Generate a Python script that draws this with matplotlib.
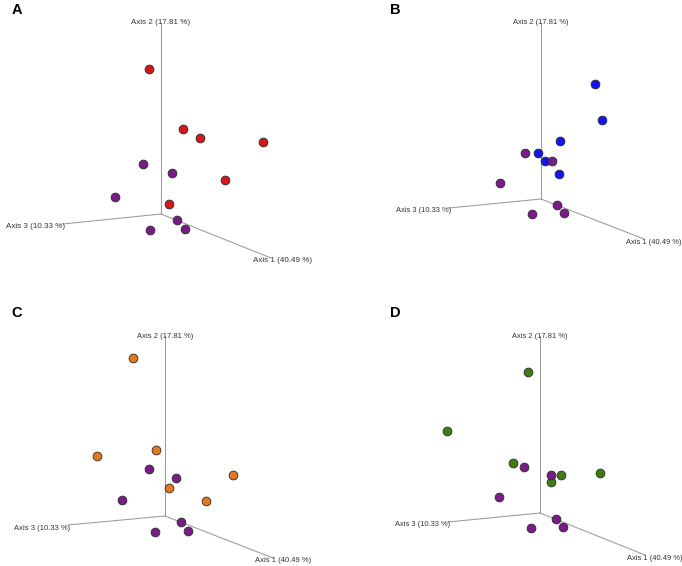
import matplotlib
matplotlib.use('Agg')
from matplotlib import pyplot as plt

plt.rcParams['font.family'] = ['Liberation Sans', 'DejaVu Sans']

# projected PCoA coordinates (axis-origin relative, y up)
purple_A_x = [-18, 11, -46, 16, -11, 24]
purple_A_y = [50, 41, 17, -6, -16, -15]
purple_x = [-16, 11, -41, 16, -9, 23]
purple_y = [46, 38, 16, -6, -15, -14]

red_x = [-12, 22, 39, 102, 64, 8]
red_y = [145, 85, 76, 72, 34, 10]

blue_x = [54, 61, 19, -3, 4, 18]
blue_y = [115, 79, 58, 46, 38, 25]

orange_x = [-32, -68, -9, 68, 4, 41]
orange_y = [158, 60, 66, 41, 28, 15]
purple_C_x = [-16, 11, -43, 16, -10, 23]
purple_C_y = [47, 38, 16, -6, -16, -15]

green_x = [-12, -93, -27, 21, 11, 60]
green_y = [141, 82, 50, 38, 31, 40]

axis_labels = ['Axis 1 (40.49 %)', 'Axis 2 (17.81 %)', 'Axis 3 (10.33 %)']

panels = [
    # letter, quadrant (col,row), origin in quadrant px, axis ends, group data, colour
    dict(name='A', cell=(0, 0), origin=(161, 214), fs=5.8,
         ax1=(110, -44), ax2=(0, 191), ax3=(-98, -10),
         gx=red_x, gy=red_y, px=purple_A_x, py=purple_A_y, color='#d21818'),
    dict(name='B', cell=(1, 0), origin=(200, 199), fs=5.4,
         ax1=(103, -40), ax2=(0, 176), ax3=(-92, -9),
         gx=blue_x, gy=blue_y, px=purple_x, py=purple_y, color='#1414f0'),
    dict(name='C', cell=(0, 1), origin=(165, 233), fs=5.5,
         ax1=(108, -42), ax2=(0, 180), ax3=(-97, -9),
         gx=orange_x, gy=orange_y, px=purple_C_x, py=purple_C_y, color='#e07a20'),
    dict(name='D', cell=(1, 1), origin=(199, 230), fs=5.4,
         ax1=(105, -42), ax2=(0, 177), ax3=(-92, -9),
         gx=green_x, gy=green_y, px=purple_x, py=purple_y, color='#3f7d12'),
]

W, H = 682, 566
QW, QH = 341, 283
fig = plt.figure(figsize=(W / 100, H / 100), dpi=100)

for p in panels:
    c, r = p['cell']
    ax = fig.add_axes([c * QW / W, 1 - (r + 1) * QH / H, QW / W, QH / H])
    ax.set_axis_off()
    ox, oy = p['origin']
    ax.set_xlim(-ox, QW - ox)
    ax.set_ylim(oy - QH, oy)

    for end in (p['ax1'], p['ax2'], p['ax3']):
        ax.plot([0, end[0]], [0, end[1]], color='#9a9a9a', lw=0.75, zorder=1)

    fs = p['fs']
    tc = '#333333'
    ax.text(p['ax2'][0], p['ax2'][1], axis_labels[1], ha='center', va='center',
            fontsize=fs, color=tc, zorder=2)
    ax.text(p['ax3'][0] + 2, p['ax3'][1] - 3, axis_labels[2], ha='right', va='center',
            fontsize=fs, color=tc, zorder=2)
    ax.text(p['ax1'][0] - 18, p['ax1'][1] - 3, axis_labels[0], ha='left', va='center',
            fontsize=fs, color=tc, zorder=2)

    ax.scatter(p['gx'], p['gy'], s=40, c=p['color'], edgecolors='#2a2a2a',
               linewidths=0.6, zorder=3)
    ax.scatter(p['px'], p['py'], s=40, c='#7a1c88', edgecolors='#2a2a2a',
               linewidths=0.6, zorder=4)

    lx = 17 if c == 0 else 54
    ly = 10 if r == 0 else 30
    ax.text(lx - ox, oy - ly, p['name'], ha='center', va='center',
            fontsize=10.5, fontweight='bold', color='black')

fig.savefig('out.png', dpi=100)
